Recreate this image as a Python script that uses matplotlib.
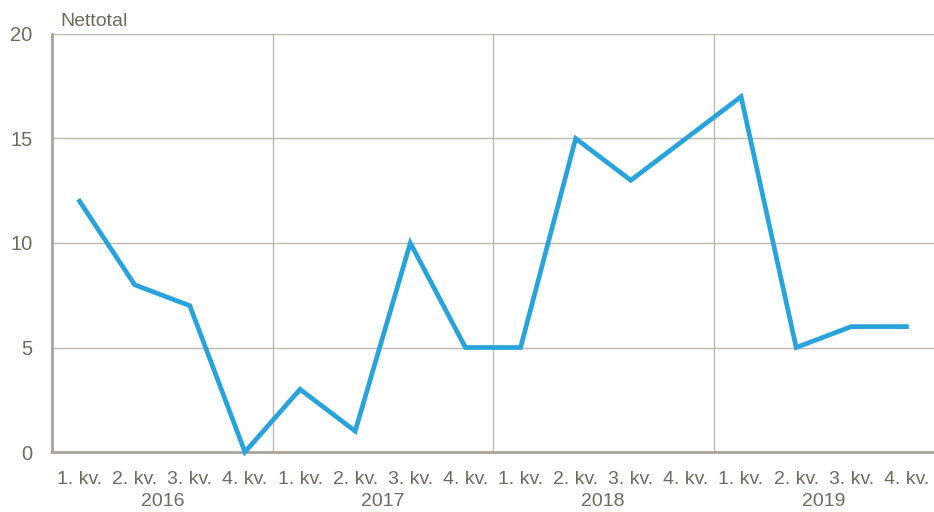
import matplotlib
matplotlib.use("Agg")
import matplotlib.pyplot as plt

plt.rcParams['font.family'] = ['Liberation Sans', 'DejaVu Sans']

quarters = ["1. kv.", "2. kv.", "3. kv.", "4. kv."]
years = ["2016", "2017", "2018", "2019"]
values = [12, 8, 7, 0, 3, 1, 10, 5, 5, 15, 13, 15, 17, 5, 6, 6]
yticks = [0, 5, 10, 15, 20]
ylabel = "Nettotal"

text_color = "#6e6b5c"
grid_color = "#bdbaae"
axis_color = "#a8a597"
line_color = "#29a3dc"

fig = plt.figure(figsize=(9.34, 5.12), dpi=100)
ax = fig.add_axes([52/934, 1-452/512, (934-52)/934, (452-34)/512])

n = len(values)
xs = list(range(n))
ax.plot(xs, values, color=line_color, lw=3.4, solid_joinstyle='miter', zorder=5, clip_on=False)

ax.set_xlim(-0.5, n - 0.5)
ax.set_ylim(0, 20)
ax.set_yticks(yticks)
ax.set_yticklabels([str(t) for t in yticks])
for t in yticks[1:]:
    ax.axhline(t, color=grid_color, lw=1.0, zorder=1)
for k in range(1, len(years)):
    ax.axvline(4*k - 0.5, color=grid_color, lw=1.0, zorder=1)

ax.set_xticks(xs)
ax.set_xticklabels(quarters * len(years))
ax.tick_params(axis='x', length=0, labelsize=14, colors=text_color, pad=14)
ax.tick_params(axis='y', length=0, labelsize=14.5, colors=text_color, pad=14)

for s in ['top', 'right']:
    ax.spines[s].set_visible(False)
for s in ['left', 'bottom']:
    ax.spines[s].set_color(axis_color)
    ax.spines[s].set_linewidth(2.0)

for i, y in enumerate(years):
    ax.text(4*i + 1.5, -(501-452)/418, y, transform=ax.get_xaxis_transform(),
            ha='center', va='center', fontsize=14, color=text_color)

fig.text(60/934, 1-22/512, ylabel, ha='left', va='center', fontsize=14, color=text_color)

fig.savefig("out.png", dpi=100)
